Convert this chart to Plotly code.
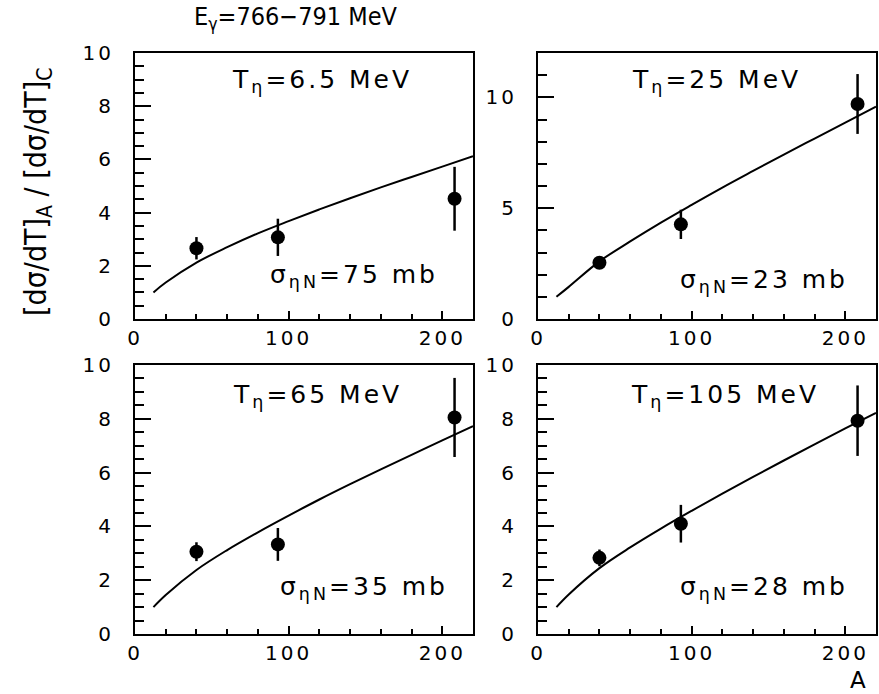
import plotly.graph_objects as go

W, H = 879, 694

# ---------------- data ----------------
A_points = [40, 93, 208]
A_curve = [12, 20, 40, 60, 80, 100, 120, 140, 160, 180, 200, 220]

T_labels = ["6.5", "25", "65", "105"]
sigma_labels = ["75", "23", "35", "28"]

y_T6 = [2.66, 3.07, 4.52]
e_T6 = [0.42, 0.70, 1.20]
c_T6 = [1.0, 1.37, 2.12, 2.70, 3.22, 3.68, 4.12, 4.54, 4.95, 5.34, 5.73, 6.12]

y_T25 = [2.54, 4.27, 9.70]
e_T25 = [0.28, 0.66, 1.35]
c_T25 = [1.0, 1.45, 2.6, 3.5, 4.35, 5.15, 5.93, 6.68, 7.42, 8.14, 8.86, 9.58]

y_T65 = [3.06, 3.33, 8.05]
e_T65 = [0.35, 0.61, 1.47]
c_T65 = [1.0, 1.45, 2.38, 3.12, 3.78, 4.4, 5.0, 5.57, 6.12, 6.66, 7.2, 7.73]

y_T105 = [2.83, 4.10, 7.93]
e_T105 = [0.31, 0.70, 1.31]
c_T105 = [1.0, 1.47, 2.45, 3.22, 3.92, 4.58, 5.22, 5.84, 6.45, 7.05, 7.64, 8.22]

x_ticks = [0, 100, 200]
y_ticks_10 = [0, 2, 4, 6, 8, 10]
y_ticks_12 = [0, 5, 10]

y_ranges = [[0, 10], [0, 12], [0, 10], [0, 10]]
y_tickvals = [y_ticks_10, y_ticks_12, y_ticks_10, y_ticks_10]
y_minor = [0.5, 1, 0.5, 0.5]

title_text = "E<sub>γ</sub>=766−791 MeV"
ytitle_text = "[dσ/dT]<sub>A</sub> / [dσ/dT]<sub>C</sub>"
xtitle_text = "A"

# ---------------- layout geometry (pixels) ----------------
def px_x(p):
    return p / W

def px_y(p):
    return 1 - p / H

def spaced(s, sp=3):
    return f'<span style="letter-spacing:{sp}px">{s}</span>'

x_doms = [[px_x(135), px_x(473)], [px_x(538), px_x(876)],
          [px_x(135), px_x(473)], [px_x(538), px_x(876)]]
y_doms = [[px_y(319), px_y(53)], [px_y(319), px_y(53)],
          [px_y(634), px_y(365)], [px_y(634), px_y(365)]]

sets = [(y_T6, e_T6, c_T6), (y_T25, e_T25, c_T25),
        (y_T65, e_T65, c_T65), (y_T105, e_T105, c_T105)]

tick_font = dict(family="DejaVu Sans, Verdana, sans-serif", size=20, color="black")
ann_font = dict(family="DejaVu Sans, Verdana, sans-serif", size=25, color="black")
cond_font = "DejaVu Sans Condensed, Liberation Sans Narrow, Arial Narrow, sans-serif"

fig = go.Figure()
layout = dict(
    template="none",
    width=W, height=H, autosize=False,
    margin=dict(l=0, r=0, t=0, b=0, pad=0, autoexpand=False),
    paper_bgcolor="white", plot_bgcolor="white",
    showlegend=False,
)

for i, (yv, ev, cv) in enumerate(sets):
    n = i + 1
    xa = "x" if n == 1 else f"x{n}"
    ya = "y" if n == 1 else f"y{n}"
    fig.add_trace(go.Scatter(
        x=A_curve, y=cv, xaxis=xa, yaxis=ya, mode="lines",
        line=dict(color="black", width=2, shape="spline"),
        hoverinfo="skip"))
    fig.add_trace(go.Scatter(
        x=A_points, y=yv, xaxis=xa, yaxis=ya, mode="markers",
        marker=dict(color="black", size=14, symbol="circle", line=dict(width=0)),
        error_y=dict(type="data", array=ev, visible=True, width=0,
                     thickness=2.5, color="black")))

    xkey = "xaxis" if n == 1 else f"xaxis{n}"
    ykey = "yaxis" if n == 1 else f"yaxis{n}"
    layout[xkey] = dict(
        domain=x_doms[i], anchor=ya, range=[0, 220], automargin=False,
        showgrid=False, zeroline=False,
        showline=True, mirror=True, linecolor="black", linewidth=2,
        ticks="inside", ticklen=8, tickwidth=2, tickcolor="black",
        tickmode="array", tickvals=x_ticks,
        ticktext=[spaced(str(v)) for v in x_ticks],
        tickfont=tick_font, ticklabelstandoff=0,
        minor=dict(ticks="inside", tickmode="linear", tick0=0, dtick=20,
                   ticklen=5, tickwidth=2, tickcolor="black", showgrid=False),
    )
    layout[ykey] = dict(
        domain=y_doms[i], anchor=xa, range=y_ranges[i], automargin=False,
        showgrid=False, zeroline=False,
        showline=True, mirror=True, linecolor="black", linewidth=2,
        ticks="inside", ticklen=16, tickwidth=2, tickcolor="black",
        tickmode="array", tickvals=y_tickvals[i],
        ticktext=[spaced(str(v)) for v in y_tickvals[i]],
        tickfont=tick_font, ticklabelstandoff=15,
        minor=dict(ticks="inside", tickmode="linear", tick0=0, dtick=y_minor[i],
                   ticklen=9, tickwidth=2, tickcolor="black", showgrid=False),
    )

# annotation positions in pixels (left edge, vertical centre)
T_pos = [(230, 81), (630, 81), (231, 396), (629, 396)]
S_pos = [(268, 276), (678, 281), (278, 588), (678, 588)]

anns = []
for i in range(4):
    tx, ty = T_pos[i]
    sx, sy = S_pos[i]
    anns.append(dict(
        x=px_x(tx), y=px_y(ty), xref="paper", yref="paper",
        xanchor="left", yanchor="middle", showarrow=False,
        text=spaced(f"T<sub>η</sub>={T_labels[i]} MeV", 3),
        font=ann_font))
    anns.append(dict(
        x=px_x(sx), y=px_y(sy), xref="paper", yref="paper",
        xanchor="left", yanchor="middle", showarrow=False,
        text=spaced(f"σ<sub>ηN</sub>={sigma_labels[i]} mb", 3),
        font=ann_font))

anns.append(dict(
    x=px_x(295), y=px_y(18), xref="paper", yref="paper",
    xanchor="center", yanchor="middle", showarrow=False,
    text=title_text, font=dict(family=cond_font, size=25, color="black")))
anns.append(dict(
    x=px_x(38), y=px_y(192), xref="paper", yref="paper",
    xanchor="center", yanchor="middle", showarrow=False, textangle=-90,
    text=ytitle_text, font=dict(family=cond_font, size=30, color="black")))
anns.append(dict(
    x=px_x(858), y=px_y(680), xref="paper", yref="paper",
    xanchor="center", yanchor="middle", showarrow=False,
    text=xtitle_text, font=dict(family="DejaVu Sans, sans-serif", size=23, color="black")))

layout["annotations"] = anns
fig.update_layout(**layout)

fig.write_html("out.html")
